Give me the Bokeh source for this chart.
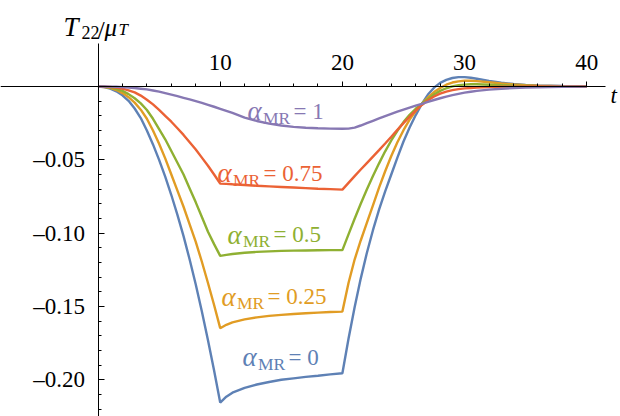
from bokeh.plotting import figure
from bokeh.models import LinearAxis, FixedTicker, CustomJSTickFormatter, Label
from bokeh.embed import file_html
from bokeh.resources import INLINE

# ---------------- data ----------------
t = [0, 0.5, 1, 1.5, 2, 2.5, 3, 3.5, 4, 4.5, 5, 5.5, 6, 6.5, 7, 7.5, 8, 8.5, 9, 9.5, 10,
     10.5, 11, 12, 13, 14, 15, 16, 17, 18, 19, 20,
     20.5, 21, 21.5, 22, 22.5, 23, 23.5, 24, 24.5, 25, 25.5, 26, 26.5, 27, 27.5,
     28, 28.5, 29, 29.5, 30, 30.5,
     31, 32, 33, 34, 35, 36, 38, 40]

T22_a0 = [0, -0.0004, -0.0015, -0.0033, -0.006, -0.0098, -0.015, -0.0215, -0.030, -0.0395, -0.050,
          -0.0615, -0.074, -0.0875, -0.102, -0.118, -0.135, -0.1535, -0.173, -0.1937, -0.2155,
          -0.2115, -0.2088, -0.2055, -0.2032, -0.2015, -0.2000, -0.1990, -0.1980, -0.1972, -0.1963, -0.1955,
          -0.1720, -0.1505, -0.1310, -0.1135, -0.0980, -0.0840, -0.0715, -0.0600, -0.0485, -0.0375,
          -0.0280, -0.0195, -0.0118, -0.0055, -0.0008, 0.0025, 0.0045, 0.0058, 0.0064, 0.0064, 0.0060,
          0.0053, 0.0038, 0.0026, 0.0017, 0.0011, 0.0007, 0.0003, 0.0001]

T22_a025 = [0, -0.0003, -0.001, -0.0024, -0.0045, -0.0073, -0.011, -0.0158, -0.022, -0.030, -0.039,
            -0.049, -0.060, -0.071, -0.082, -0.094, -0.106, -0.1195, -0.134, -0.149, -0.1648,
            -0.1625, -0.1608, -0.1588, -0.1574, -0.1564, -0.1557, -0.1551, -0.1546, -0.1542, -0.1538, -0.1535,
            -0.1340, -0.1180, -0.1050, -0.0930, -0.0810, -0.0690, -0.0578, -0.0474, -0.0380, -0.0298,
            -0.0226, -0.0167, -0.0118, -0.0075, -0.0038, -0.0010, 0.0012, 0.0027, 0.0035, 0.0039, 0.0039,
            0.0037, 0.0029, 0.0021, 0.0014, 0.0009, 0.0006, 0.0002, 0.0001]

T22_a05 = [0, -0.0002, -0.0008, -0.0017, -0.003, -0.0052, -0.008, -0.0115, -0.016, -0.022, -0.029,
           -0.036, -0.044, -0.052, -0.060, -0.0695, -0.079, -0.089, -0.099, -0.1075, -0.1155,
           -0.1148, -0.1142, -0.1134, -0.1128, -0.1124, -0.1121, -0.1119, -0.1118, -0.1117, -0.1116, -0.1116,
           -0.1008, -0.0902, -0.0800, -0.0703, -0.0611, -0.0524, -0.0442, -0.0368, -0.0302, -0.0243,
           -0.0193, -0.0152, -0.0118, -0.0085, -0.0055, -0.0030, -0.0012, 0.0001, 0.0009, 0.0013, 0.0015,
           0.0015, 0.0012, 0.0009, 0.0006, 0.0004, 0.0002, 0.0001, 0.0]

T22_a075 = [0, -0.0001, -0.0003, -0.0008, -0.0015, -0.0026, -0.004, -0.0062, -0.009, -0.0122, -0.016,
            -0.020, -0.024, -0.0285, -0.033, -0.038, -0.043, -0.0485, -0.054, -0.060, -0.0662,
            -0.0664, -0.0667, -0.0672, -0.0677, -0.0681, -0.0685, -0.0689, -0.0693, -0.0697, -0.0700, -0.0703,
            -0.0657, -0.0611, -0.0566, -0.0522, -0.0478, -0.0434, -0.0389, -0.0343, -0.0296, -0.0250,
            -0.0206, -0.0164, -0.0126, -0.0094, -0.0068, -0.0049, -0.0035, -0.0025, -0.0018, -0.0013, -0.0010,
            -0.0007, -0.0004, -0.0002, -0.0001, 0.0, 0.0, 0.0, 0.0]

T22_a1 = [0, 0.0, -0.0001, -0.0002, -0.0004, -0.0007, -0.001, -0.0015, -0.002, -0.0027, -0.0035,
          -0.0045, -0.0055, -0.0066, -0.0077, -0.0088, -0.0100, -0.0112, -0.0125, -0.0138, -0.0152,
          -0.0166, -0.0180, -0.0212, -0.0235, -0.0253, -0.0266, -0.0275, -0.0281, -0.0285, -0.0287, -0.0288,
          -0.0287, -0.0280, -0.0266, -0.0250, -0.0234, -0.0218, -0.0202, -0.0187, -0.0172, -0.0158,
          -0.0144, -0.0131, -0.0118, -0.0105, -0.0092, -0.0080, -0.0069, -0.0059, -0.0050, -0.0042, -0.0036,
          -0.0030, -0.0021, -0.0015, -0.0010, -0.0007, -0.0005, -0.0002, -0.0001]

series_names = ["0", "0.25", "0.5", "0.75", "1"]
series_values = [T22_a0, T22_a025, T22_a05, T22_a075, T22_a1]
colors = ["#5E81B5", "#E19C24", "#8FB032", "#EB6235", "#8778B3"]

x_ticks = [10, 20, 30, 40]
x_minor = [2, 4, 6, 8, 12, 14, 16, 18, 22, 24, 26, 28, 32, 34, 36, 38]
y_ticks = [-0.20, -0.15, -0.10, -0.05]
y_minor = [-0.01, -0.02, -0.03, -0.04, -0.06, -0.07, -0.08, -0.09, -0.11, -0.12, -0.13,
           -0.14, -0.16, -0.17, -0.18, -0.19, -0.21, -0.22]

# ---------------- layout helpers (page pixels -> data) ----------------
PX0, PXS = 97.5, 12.22     # page x of t=0, pixels per unit t
PY0, PYS = 86.0, 1466.5    # page y of 0, pixels per unit of T22
W, H = 620, 416


def dx(px):
    return (px - PX0) / PXS


def dy(py):
    return (PY0 - py) / PYS


SERIF = "Liberation Serif"

p = figure(width=W, height=H,
           x_range=(dx(0), dx(W)), y_range=(dy(H), dy(0)),
           x_axis_location=None, y_axis_location=None,
           toolbar_location=None, output_backend="svg",
           min_border_left=0, min_border_right=0, min_border_top=0, min_border_bottom=0)
p.outline_line_color = None
p.xgrid.visible = False
p.ygrid.visible = False
p.background_fill_color = "white"
p.border_fill_color = "white"

# axes crossing at the origin
xaxis = LinearAxis(fixed_location=0, bounds=(dx(0), dx(605)),
                   ticker=FixedTicker(ticks=x_ticks, minor_ticks=x_minor))
xaxis.axis_line_color = "black"
xaxis.axis_line_width = 1
xaxis.major_tick_out = 5
xaxis.major_tick_in = 0
xaxis.minor_tick_out = 3
xaxis.minor_tick_in = 0
xaxis.major_tick_line_color = "black"
xaxis.minor_tick_line_color = "black"
xaxis.major_label_standoff = 12
xaxis.major_label_text_font = SERIF
xaxis.major_label_text_font_size = "23px"
xaxis.major_label_text_color = "black"
p.add_layout(xaxis, "above")

yaxis = LinearAxis(fixed_location=0, bounds=(dy(H), dy(43)),
                   ticker=FixedTicker(ticks=y_ticks, minor_ticks=y_minor),
                   formatter=CustomJSTickFormatter(code="return '\\u2013' + Math.abs(tick).toFixed(2);"))
yaxis.axis_line_color = "black"
yaxis.axis_line_width = 1
yaxis.major_tick_in = 6
yaxis.major_tick_out = 0
yaxis.minor_tick_in = 3
yaxis.minor_tick_out = 0
yaxis.major_tick_line_color = "black"
yaxis.minor_tick_line_color = "black"
yaxis.major_label_standoff = 13
yaxis.major_label_text_font = SERIF
yaxis.major_label_text_font_size = "23px"
yaxis.major_label_text_color = "black"
p.add_layout(yaxis, "left")

# curves
for vals, col in zip(series_values, colors):
    p.line(t, vals, line_color=col, line_width=2.4)


def add_text(px, py, text, size, color="black", style="normal"):
    p.add_layout(Label(x=dx(px), y=dy(py), text=text, text_font=SERIF,
                       text_font_size=size, text_color=color, text_font_style=style,
                       text_align="left", text_baseline="alphabetic"))


# curve labels: (alpha left px, baseline py)
label_pos = [(242, 356.7), (221, 296), (227, 234), (217, 172.7), (247, 110.7)]
for (lx, ly), name, col in zip(label_pos, series_names, colors):
    add_text(lx, ly, "\u03b1", "27px", col, "italic")
    add_text(lx + 15.5, ly + 6.5, "MR", "17.5px", col)
    add_text(lx + 46, ly, "= " + name, "23px", col)

# axis titles
add_text(63, 26.7, "T", "27px", "black", "italic")
add_text(81, 31.7, "22", "18px")
add_text(97, 30, "/", "26px")
add_text(104, 27, "\u03bc", "25px", "black", "italic")
add_text(118, 29.3, "T", "17px", "black", "italic")
add_text(610, 95, "t", "23px", "black", "italic")

open("out.html", "w").write(file_html(p, INLINE))
